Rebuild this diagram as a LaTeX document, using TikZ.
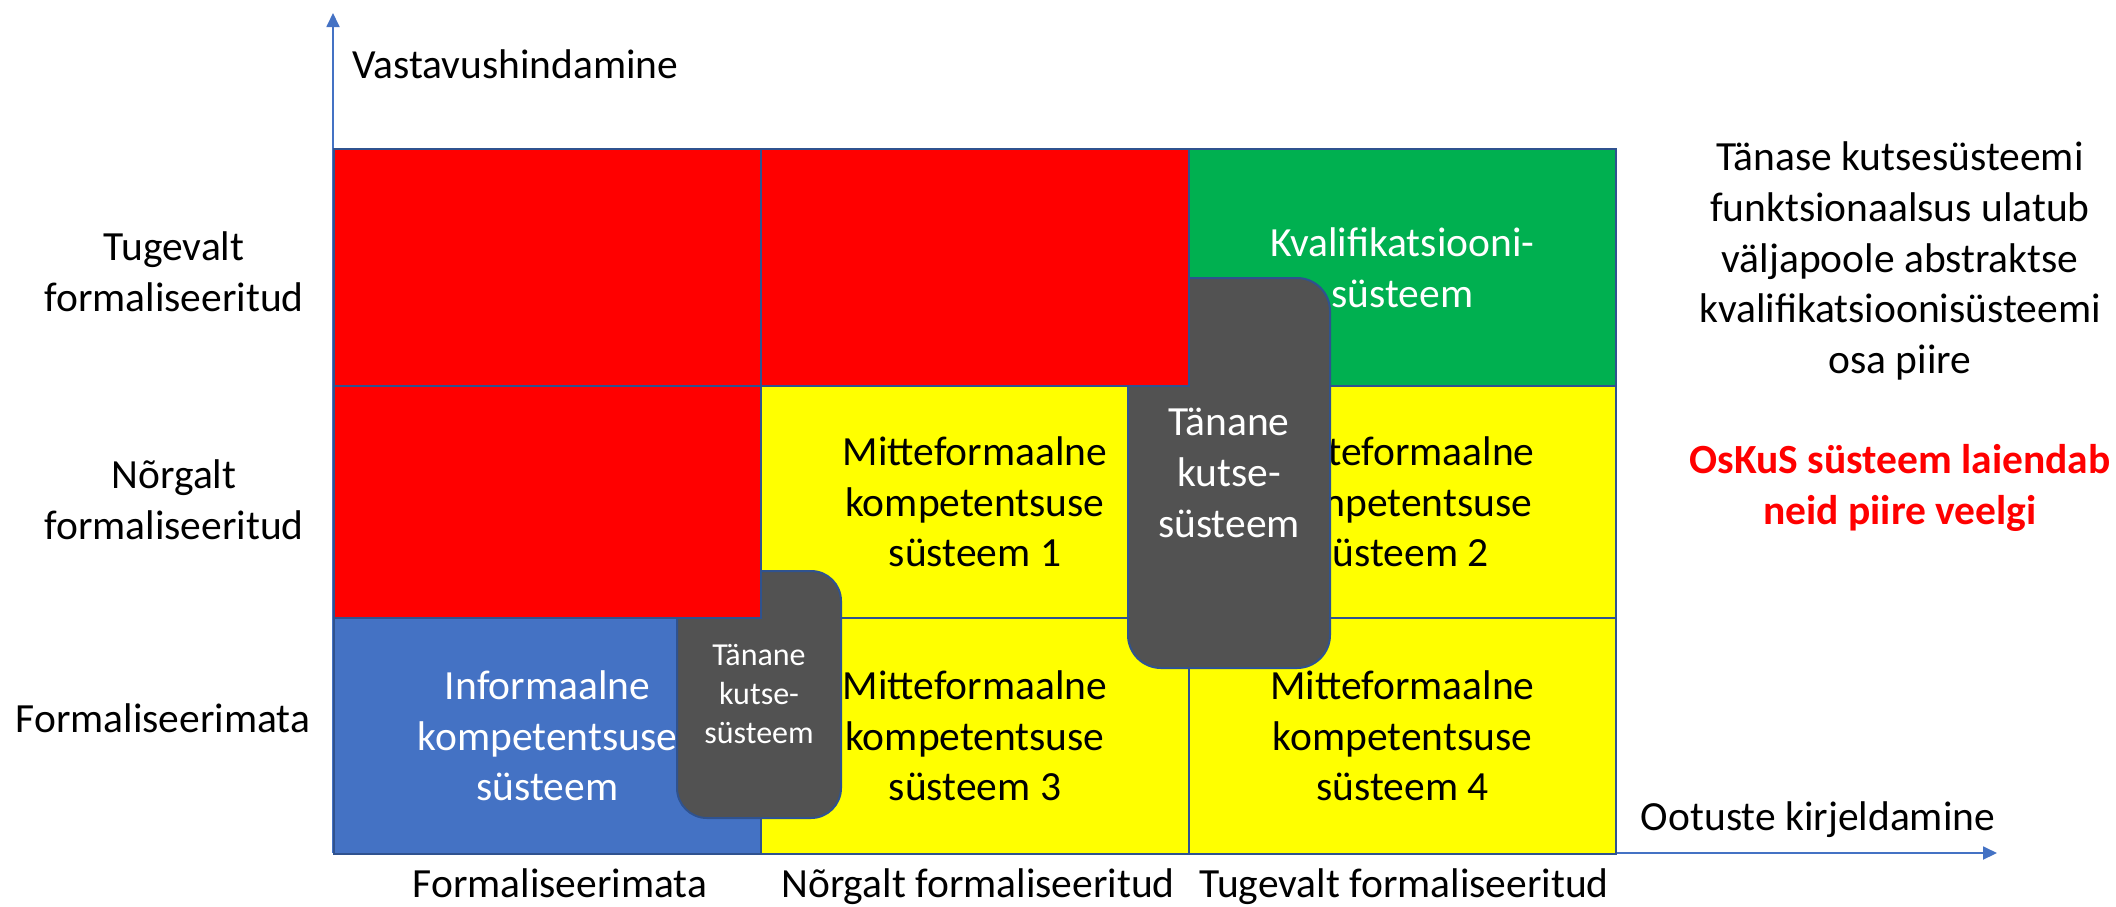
\documentclass[tikz,border=0pt]{standalone}
\usepackage{fontspec}
\setmainfont{Carlito}
\usetikzlibrary{arrows.meta}
\definecolor{cred}{HTML}{FF0000}
\definecolor{cyellow}{HTML}{FFFF00}
\definecolor{cgreen}{HTML}{00B050}
\definecolor{cblue}{HTML}{4472C4}
\definecolor{cedge}{HTML}{2F528F}
\definecolor{cgray}{HTML}{525252}
\definecolor{caxis}{HTML}{4472C4}
\begin{document}
\begin{tikzpicture}[x=1pt,y=-1pt,
  lbl/.style={font=\fontsize{41.5}{50.6}\selectfont, inner sep=0pt, align=center},
  cellbox/.style={lbl, draw=cedge, line width=2pt, anchor=north west},
  graybox/.style={draw=cedge, line width=2pt, fill=cgray, rounded corners=#1, anchor=north west, inner sep=0pt, align=center, text=white},
  axisline/.style={draw=caxis, line width=1.8pt, -{Triangle[length=14pt,width=13pt]}}
]
\useasboundingbox (0,0) rectangle (2116,906);

% axes
\coordinate (o) at (333,853);
\coordinate (ytip) at (333,13);
\coordinate (xtip) at (1997,853);
\draw[axisline] (o) -- (ytip);
\draw[axisline] (o) -- (xtip);

% cells (under the grey boxes)
\node[cellbox, fill=cgreen, text=white, minimum width=427pt, minimum height=237pt] (g13) at (1188,148) {Kvalifikatsiooni-\\süsteem};
\node[cellbox, fill=cyellow, minimum width=428pt, minimum height=232pt] (y22) at (760,385) {Mitteformaalne\\kompetentsuse\\süsteem 1};
\node[cellbox, fill=cyellow, minimum width=427pt, minimum height=232pt] (y23) at (1188,385) {Mitteformaalne\\kompetentsuse\\süsteem 2};
\node[cellbox, fill=cblue, text=white, minimum width=427pt, minimum height=236pt] (b31) at (333,617) {Informaalne\\kompetentsuse\\süsteem};
\node[cellbox, fill=cyellow, minimum width=428pt, minimum height=236pt] (y32) at (760,617) {Mitteformaalne\\kompetentsuse\\süsteem 3};
\node[cellbox, fill=cyellow, minimum width=427pt, minimum height=236pt] (y33) at (1188,617) {Mitteformaalne\\kompetentsuse\\süsteem 4};

% grey boxes
\node[graybox=33pt, minimum width=202pt, minimum height=390pt, font=\fontsize{41.5}{50.6}\selectfont] (kbig) at (1127,277) {Tänane\\kutse-\\süsteem};
\node[graybox=30pt, minimum width=164pt, minimum height=247pt, font=\fontsize{32}{39}\selectfont] (ksmall) at (676,570) {Tänane\\kutse-\\süsteem};

% red cells (on top)
\node[cellbox, fill=cred, minimum width=427pt, minimum height=237pt] (r11) at (333,148) {};
\node[cellbox, fill=cred, minimum width=428pt, minimum height=237pt] (r12) at (760,148) {};
\node[cellbox, fill=cred, minimum width=427pt, minimum height=232pt] (r21) at (333,385) {};

% axis labels
\node[lbl, anchor=base west] (ylab) at (352,78) {Vastavushindamine};
\node[lbl, anchor=base] (xlab) at (1818,830) {Ootuste kirjeldamine};

% row labels
\node[lbl] (row1) at (174,272) {Tugevalt\\formaliseeritud};
\node[lbl] (row2) at (174,500) {Nõrgalt\\formaliseeritud};
\node[lbl, anchor=base] (row3) at (163,732) {Formaliseerimata};

% column labels
\node[lbl, anchor=base] (col1) at (560,897) {Formaliseerimata};
\node[lbl, anchor=base] (col2) at (978,897) {Nõrgalt formaliseeritud};
\node[lbl, anchor=base] (col3) at (1404,897) {Tugevalt formaliseeritud};

% right-hand notes
\node[lbl] (note1) at (1900,261) {Tänase kutsesüsteemi\\funktsionaalsus ulatub\\väljapoole abstraktse\\kvalifikatsioonisüsteemi\\osa piire};
\node[lbl, text=cred, font=\fontsize{41.5}{50.6}\selectfont\bfseries] (note2) at (1900,488) {OsKuS süsteem laiendab\\neid piire veelgi};
\end{tikzpicture}
\end{document}
